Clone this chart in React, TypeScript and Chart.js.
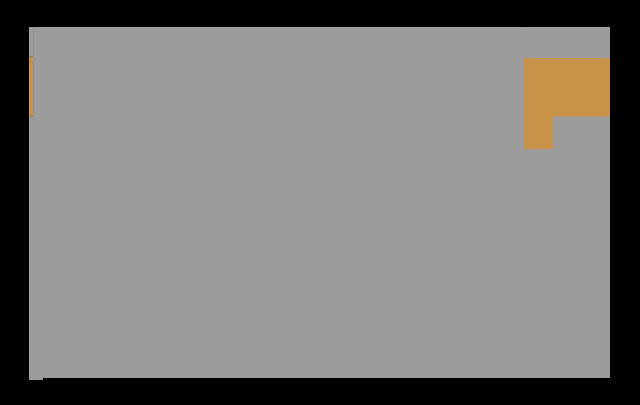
import { useEffect, useRef } from "react";
import { Chart, registerables, type ChartConfiguration } from "chart.js";

Chart.register(...registerables);

// step boundaries along the x axis (0-100), each value holds until the next one
const steps = [0, 0.7, 2.4, 85.2, 90.2, 100];

// stacked band thicknesses (0-100 on the y axis)
const lowerGray = [74.4, 100, 100, 65.2, 74.4, 74.4];
const orangeBand = [17.1, 0, 0, 26.0, 16.8, 16.8];
const upperGray = [8.5, 0, 0, 8.8, 8.8, 8.8];
const belowZero = [-0.6, -0.6, 0, 0, 0, 0];

const GRAY = "#9c9c9c";
const ORANGE = "#c8944a";

const toPoints = (values: number[]) =>
  steps.map((x, i) => ({ x, y: values[i] }));

export default function App() {
  const canvasRef = useRef<HTMLCanvasElement | null>(null);

  useEffect(() => {
    const canvas = canvasRef.current;
    if (!canvas) return;

    const band = (label: string, values: number[], color: string, fill: string) => ({
      label,
      data: toPoints(values),
      backgroundColor: color,
      borderColor: color,
      borderWidth: 0,
      pointRadius: 0,
      stepped: true,
      fill,
    });

    const config: ChartConfiguration<"line"> = {
      type: "line",
      data: {
        datasets: [
          band("Base", lowerGray, GRAY, "origin"),
          band("Highlight", orangeBand, ORANGE, "-1"),
          band("Top", upperGray, GRAY, "-1"),
          band("Offset", belowZero, GRAY, "origin"),
        ] as any,
      },
      options: {
        responsive: false,
        animation: false,
        layout: { padding: { left: 29, right: 30, top: 27, bottom: 25 } },
        plugins: {
          legend: { display: false },
          tooltip: { enabled: false },
        },
        scales: {
          x: { type: "linear", min: 0, max: 100, display: false },
          y: { stacked: true, min: -0.6, max: 100, display: false },
        },
      },
    };

    const chart = new Chart(canvas, config);
    return () => chart.destroy();
  }, []);

  return (
    <div
      style={{
        position: "fixed",
        top: 0,
        left: 0,
        width: 640,
        height: 405,
        background: "#000",
      }}
    >
      <canvas ref={canvasRef} width={640} height={405} />
    </div>
  );
}
